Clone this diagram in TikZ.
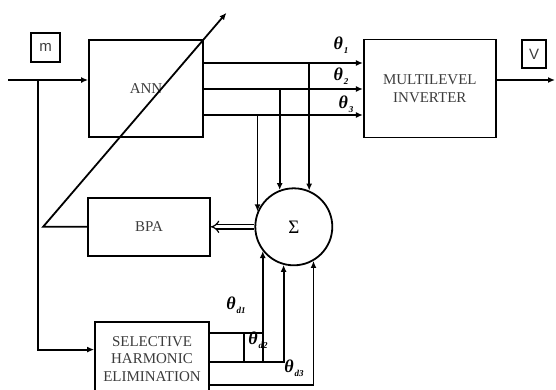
\documentclass[tikz,border=0pt]{standalone}
\usepackage{fontspec}
\setmainfont{Liberation Serif}
\newfontfamily\sansfont{Liberation Sans}
\usetikzlibrary{arrows.meta,positioning,calc}
\definecolor{colTexte}{RGB}{60,60,60}
\newcommand{\thsub}[1]{θ\kern1pt\raisebox{-4pt}{\fontsize{9pt}{9pt}\selectfont #1}}

\begin{document}
\begin{tikzpicture}[x=1pt, y=-1pt, line width=1.8pt,
    font=\fontsize{15pt}{17.5pt}\selectfont,
    blk/.style={rectangle, draw, align=center, inner sep=0pt, text=colTexte},
    fl/.style={-{Latex[length=7pt, width=6pt]}},
    th/.style={inner sep=0pt, font=\fontsize{18pt}{18pt}\selectfont\bfseries\itshape}]
  \useasboundingbox (0,0) rectangle (556,389);
  % blocs
  \node[blk, minimum width=114pt, minimum height=97pt] (ann) at (146,88.5) {ANN};
  \node[blk, minimum width=132pt, minimum height=98pt, right=159pt of ann] (mi)
    {MULTILEVEL\\ INVERTER};
  \node[blk, minimum width=122pt, minimum height=58pt, below=59pt of ann,
    xshift=3pt] (bpa) {BPA};
  \node[circle, draw, minimum size=77pt, inner sep=0pt, right=43.5pt of bpa,
    font=\fontsize{19pt}{19pt}\selectfont] (sum) {Σ};
  \node[blk, minimum width=114pt, minimum height=74pt, below=64pt of bpa,
    xshift=3pt] (she) {SELECTIVE\\ HARMONIC\\ ELIMINATION};
  \node[blk, minimum size=29pt, font=\sansfont\fontsize{15pt}{15pt}\selectfont]
    (m) at (45.5,47.5) {m};
  \node[blk, minimum width=24pt, minimum height=28pt,
    font=\sansfont\fontsize{15pt}{15pt}\selectfont] (v) at (534,54) {V};
  % entree / sortie
  \coordinate (in) at (8,80);
  \coordinate (br) at (38,80);
  \coordinate (out) at (555,80);
  \draw[fl] (in) -- (in -| ann.west);
  \draw[fl] (br) |- ([yshift=9pt]she.west);
  \draw[fl] (out -| mi.east) -- (out);
  % sorties ANN
  \coordinate (o1) at ([yshift=25.5pt]ann.east);
  \coordinate (o2) at ([yshift=-0.5pt]ann.east);
  \coordinate (o3) at ([yshift=-26.5pt]ann.east);
  \foreach \o in {o1,o2,o3}
    \draw[fl] (\o) -- (\o -| mi.west);
  \draw[fl] (sum.67 |- o1) -- (sum.67);
  \draw[fl] (sum.111 |- o2) -- (sum.111);
  \draw[fl] (sum.157 |- o3) -- (sum.157);
  \node[th] (t1) at (341,45) {\thsub{1}};
  \node[th] (t2) at (341,76) {\thsub{2}};
  \node[th] (t3) at (346,104) {\thsub{3}};
  % apprentissage
  \draw[double, double distance=3pt, line width=1.2pt, -{Implies}]
    (sum.west) -- (bpa.east);
  \coordinate (k) at ([xshift=-44pt]bpa.west);
  \coordinate (tip) at ($(k)!1.14!(ann.north east)$);
  \draw[fl] (bpa.west) -- (k) -- (tip);
  % sorties SHE
  \coordinate (d1) at ([yshift=26pt]she.east);
  \coordinate (d2) at ([yshift=-3pt]she.east);
  \coordinate (d3) at ([yshift=-26pt]she.east);
  \draw[fl] (d1) -| (sum.218);
  \draw[fl] (d2) -| (sum.255);
  \draw[fl] (d3) -| (sum.300);
  \draw ([xshift=-18.5pt]sum.218 |- d1) -- ([xshift=-18.5pt]sum.218 |- d2);
  \draw (sum.218 |- d1) -- (sum.218 |- d2);
  \node[th] (td1) at (236,305) {\thsub{d1}};
  \node[th] (td2) at (258,340) {\thsub{d2}};
  \node[th] (td3) at (294,368) {\thsub{d3}};
\end{tikzpicture}
\end{document}
